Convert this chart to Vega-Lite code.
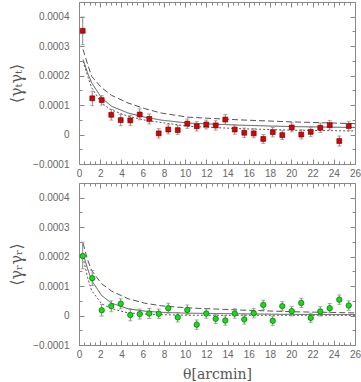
{
  "$schema": "https://vega.github.io/schema/vega-lite/v6.json",
  "padding": {"left": 8, "top": 1, "right": 5, "bottom": 2},
  "spacing": 1,
  "background": "white",
  "config": {
    "view": {"stroke": "#888", "strokeWidth": 1},
    "axis": {
      "labelFont": "Liberation Sans", "labelColor": "#666", "labelFontSize": 10,
      "tickColor": "#888", "domain": false, "grid": false,
      "titleFont": "DejaVu Serif", "titleColor": "#555", "titleFontWeight": "normal", "titleFontSize": 14
    }
  },
  "datasets": {
    "pts": [
      {"p":"t","x":0.35,"y":0.000352,"lo":0.000305,"hi":0.000399},
      {"p":"t","x":1.25,"y":0.000123,"lo":0.000098,"hi":0.000147},
      {"p":"t","x":2.14,"y":0.000117,"lo":0.0001,"hi":0.000132},
      {"p":"t","x":3.04,"y":0.000067,"lo":0.000049,"hi":0.000085},
      {"p":"t","x":3.93,"y":0.000049,"lo":0.00003,"hi":0.000068},
      {"p":"t","x":4.83,"y":0.000048,"lo":0.000031,"hi":0.000065},
      {"p":"t","x":5.72,"y":0.000068,"lo":0.00005,"hi":0.000087},
      {"p":"t","x":6.62,"y":0.000053,"lo":0.000036,"hi":0.00007},
      {"p":"t","x":7.51,"y":0.000004,"lo":-0.000012,"hi":0.00002},
      {"p":"t","x":8.41,"y":0.000017,"lo":0.000002,"hi":0.000033},
      {"p":"t","x":9.3,"y":0.000015,"lo":0.0,"hi":0.00003},
      {"p":"t","x":10.2,"y":0.000037,"lo":0.000021,"hi":0.000053},
      {"p":"t","x":11.09,"y":0.000028,"lo":0.000012,"hi":0.000044},
      {"p":"t","x":11.99,"y":0.000034,"lo":0.000019,"hi":0.000049},
      {"p":"t","x":12.88,"y":0.000031,"lo":0.000015,"hi":0.000047},
      {"p":"t","x":13.78,"y":0.000051,"lo":0.000035,"hi":0.000068},
      {"p":"t","x":14.67,"y":0.000017,"lo":0.000001,"hi":0.000033},
      {"p":"t","x":15.57,"y":0.000006,"lo":-0.00001,"hi":0.000022},
      {"p":"t","x":16.46,"y":0.000004,"lo":-0.000011,"hi":0.00002},
      {"p":"t","x":17.36,"y":-0.000015,"lo":-0.00003,"hi":0.0},
      {"p":"t","x":18.25,"y":0.000008,"lo":-0.000008,"hi":0.000024},
      {"p":"t","x":19.15,"y":-0.000002,"lo":-0.000017,"hi":0.000013},
      {"p":"t","x":20.04,"y":0.000024,"lo":0.000009,"hi":0.00004},
      {"p":"t","x":20.94,"y":0.0,"lo":-0.000015,"hi":0.000016},
      {"p":"t","x":21.83,"y":0.000009,"lo":-0.000007,"hi":0.000025},
      {"p":"t","x":22.73,"y":0.000023,"lo":0.000007,"hi":0.000039},
      {"p":"t","x":23.62,"y":0.000032,"lo":0.000016,"hi":0.000048},
      {"p":"t","x":24.52,"y":-0.000022,"lo":-0.000039,"hi":-0.000005},
      {"p":"t","x":25.41,"y":0.000029,"lo":0.000013,"hi":0.000045},
      {"p":"r","x":0.35,"y":0.000202,"lo":0.000159,"hi":0.000249},
      {"p":"r","x":1.25,"y":0.000127,"lo":0.000102,"hi":0.000153},
      {"p":"r","x":2.14,"y":0.000018,"lo":-0.000002,"hi":0.000038},
      {"p":"r","x":3.04,"y":0.000032,"lo":0.000013,"hi":0.00005},
      {"p":"r","x":3.93,"y":0.00004,"lo":0.000023,"hi":0.000057},
      {"p":"r","x":4.83,"y":0.000002,"lo":-0.000018,"hi":0.000022},
      {"p":"r","x":5.72,"y":0.000005,"lo":-0.000012,"hi":0.000022},
      {"p":"r","x":6.62,"y":0.000007,"lo":-0.00001,"hi":0.000024},
      {"p":"r","x":7.51,"y":0.000006,"lo":-0.00001,"hi":0.000022},
      {"p":"r","x":8.41,"y":0.000025,"lo":0.000008,"hi":0.000042},
      {"p":"r","x":9.3,"y":-0.000006,"lo":-0.000022,"hi":0.00001},
      {"p":"r","x":10.2,"y":0.000019,"lo":0.000003,"hi":0.000036},
      {"p":"r","x":11.09,"y":-0.000031,"lo":-0.000047,"hi":-0.000015},
      {"p":"r","x":11.99,"y":0.000007,"lo":-0.000009,"hi":0.000023},
      {"p":"r","x":12.88,"y":-0.000011,"lo":-0.000027,"hi":0.000005},
      {"p":"r","x":13.78,"y":-0.000017,"lo":-0.000033,"hi":-0.000001},
      {"p":"r","x":14.67,"y":0.000007,"lo":-0.000009,"hi":0.000023},
      {"p":"r","x":15.57,"y":-0.000013,"lo":-0.000029,"hi":0.000003},
      {"p":"r","x":16.46,"y":0.000008,"lo":-0.000008,"hi":0.000024},
      {"p":"r","x":17.36,"y":0.000036,"lo":0.00002,"hi":0.000052},
      {"p":"r","x":18.25,"y":-0.000018,"lo":-0.000034,"hi":-0.000002},
      {"p":"r","x":19.15,"y":0.000032,"lo":0.000016,"hi":0.000048},
      {"p":"r","x":20.04,"y":0.000015,"lo":-0.000001,"hi":0.000031},
      {"p":"r","x":20.94,"y":0.000043,"lo":0.000027,"hi":0.000059},
      {"p":"r","x":21.83,"y":-0.000008,"lo":-0.000024,"hi":0.000008},
      {"p":"r","x":22.73,"y":0.000014,"lo":-0.000002,"hi":0.00003},
      {"p":"r","x":23.62,"y":0.000025,"lo":0.000009,"hi":0.000041},
      {"p":"r","x":24.52,"y":0.000054,"lo":0.000038,"hi":0.00007},
      {"p":"r","x":25.41,"y":0.000034,"lo":0.000018,"hi":0.00005}
    ],
    "curves": [
      {"p":"t","c":"upper","x":0.38,"y":0.000289},{"p":"t","c":"upper","x":0.8,"y":0.00024},{"p":"t","c":"upper","x":1.19,"y":0.000198},{"p":"t","c":"upper","x":2.13,"y":0.000159},{"p":"t","c":"upper","x":3.07,"y":0.000133},{"p":"t","c":"upper","x":4.63,"y":0.000107},{"p":"t","c":"upper","x":6.2,"y":0.000088},{"p":"t","c":"upper","x":7.75,"y":0.000073},{"p":"t","c":"upper","x":10.25,"y":0.000059},{"p":"t","c":"upper","x":15,"y":0.00005},{"p":"t","c":"upper","x":20,"y":0.000043},{"p":"t","c":"upper","x":26,"y":0.000037},
      {"p":"t","c":"mid","x":0.38,"y":0.000255},{"p":"t","c":"mid","x":0.8,"y":0.00021},{"p":"t","c":"mid","x":1.19,"y":0.000176},{"p":"t","c":"mid","x":2.13,"y":0.000124},{"p":"t","c":"mid","x":3.07,"y":0.000096},{"p":"t","c":"mid","x":4.63,"y":0.000073},{"p":"t","c":"mid","x":6.2,"y":0.000059},{"p":"t","c":"mid","x":7.75,"y":0.000049},{"p":"t","c":"mid","x":10.25,"y":0.000039},{"p":"t","c":"mid","x":15,"y":0.000032},{"p":"t","c":"mid","x":20,"y":0.000027},{"p":"t","c":"mid","x":26,"y":0.000024},
      {"p":"t","c":"lower","x":0.38,"y":0.000249},{"p":"t","c":"lower","x":0.8,"y":0.0002},{"p":"t","c":"lower","x":1.19,"y":0.000159},{"p":"t","c":"lower","x":2.13,"y":0.000107},{"p":"t","c":"lower","x":3.07,"y":0.000083},{"p":"t","c":"lower","x":4.63,"y":0.000062},{"p":"t","c":"lower","x":6.2,"y":0.000049},{"p":"t","c":"lower","x":7.75,"y":0.000041},{"p":"t","c":"lower","x":10.25,"y":0.000028},{"p":"t","c":"lower","x":15,"y":0.00002},{"p":"t","c":"lower","x":20,"y":0.000015},{"p":"t","c":"lower","x":26,"y":0.000012},
      {"p":"r","c":"upper","x":0.38,"y":0.000246},{"p":"r","c":"upper","x":0.8,"y":0.00019},{"p":"r","c":"upper","x":1.19,"y":0.000153},{"p":"r","c":"upper","x":2.13,"y":0.000108},{"p":"r","c":"upper","x":3.07,"y":0.000083},{"p":"r","c":"upper","x":4.63,"y":0.000057},{"p":"r","c":"upper","x":6.2,"y":0.000042},{"p":"r","c":"upper","x":7.75,"y":0.000033},{"p":"r","c":"upper","x":10.25,"y":0.000026},{"p":"r","c":"upper","x":15,"y":0.000019},{"p":"r","c":"upper","x":20,"y":0.000013},{"p":"r","c":"upper","x":26,"y":0.000009},
      {"p":"r","c":"mid","x":0.38,"y":0.00021},{"p":"r","c":"mid","x":0.8,"y":0.00016},{"p":"r","c":"mid","x":1.19,"y":0.000119},{"p":"r","c":"mid","x":2.13,"y":0.000068},{"p":"r","c":"mid","x":3.07,"y":0.000042},{"p":"r","c":"mid","x":4.63,"y":0.000023},{"p":"r","c":"mid","x":6.2,"y":0.000015},{"p":"r","c":"mid","x":7.75,"y":0.000011},{"p":"r","c":"mid","x":10.25,"y":0.000008},{"p":"r","c":"mid","x":15,"y":0.000006},{"p":"r","c":"mid","x":20,"y":0.000004},{"p":"r","c":"mid","x":26,"y":0.000003},
      {"p":"r","c":"lower","x":0.38,"y":0.000198},{"p":"r","c":"lower","x":0.8,"y":0.00013},{"p":"r","c":"lower","x":1.19,"y":0.000085},{"p":"r","c":"lower","x":2.13,"y":0.00004},{"p":"r","c":"lower","x":3.07,"y":0.000023},{"p":"r","c":"lower","x":4.63,"y":0.000009},{"p":"r","c":"lower","x":6.2,"y":0.000005},{"p":"r","c":"lower","x":7.75,"y":0.000003},{"p":"r","c":"lower","x":10.25,"y":0.000001},{"p":"r","c":"lower","x":15,"y":0.000001},{"p":"r","c":"lower","x":20,"y":0.000001},{"p":"r","c":"lower","x":26,"y":0.000001}
    ]
  },
  "vconcat": [
    {
      "width": 276, "height": 162,
      "layer": [
        {
          "data": {"name": "curves"},
          "transform": [{"filter": "datum.p == 't'"}],
          "mark": {"type": "line", "color": "#555", "strokeWidth": 1},
          "encoding": {
            "x": {"field": "x", "type": "quantitative", "scale": {"domain": [0, 26], "nice": false},
              "axis": {"orient": "bottom", "title": null, "values": [0,0.5,1,1.5,2,2.5,3,3.5,4,4.5,5,5.5,6,6.5,7,7.5,8,8.5,9,9.5,10,10.5,11,11.5,12,12.5,13,13.5,14,14.5,15,15.5,16,16.5,17,17.5,18,18.5,19,19.5,20,20.5,21,21.5,22,22.5,23,23.5,24,24.5,25,25.5,26],
                "labelExpr": "datum.value % 2 == 0 ? format(datum.value, 'd') : ''",
                "tickSize": {"condition": {"test": "datum.value % 2 == 0", "value": -5}, "value": -3},
                "labelPadding": 9, "labelFlush": false, "labelOverlap": false}},
            "y": {"field": "y", "type": "quantitative", "scale": {"domain": [-0.0001, 0.00045], "nice": false, "zero": false},
              "axis": {"orient": "left", "title": "⟨γₜγₜ⟩", "titlePadding": 8, "titleFontSize": 16,
                "values": [-0.0001,-0.00005,0,0.00005,0.0001,0.00015,0.0002,0.00025,0.0003,0.00035,0.0004],
                "labelExpr": "abs(round(datum.value*100000)) % 10 == 0 ? (datum.value == 0 ? '0' : format(datum.value, '.4f')) : ''",
                "tickSize": {"condition": {"test": "abs(round(datum.value*100000)) % 10 == 0", "value": -5}, "value": -3},
                "labelPadding": 15, "labelFlush": false, "labelOverlap": false}},
            "detail": {"field": "c"},
            "strokeDash": {"field": "c", "type": "nominal", "scale": {"domain": ["upper", "mid", "lower"], "range": [[6, 3], [1, 0], [2, 2]]}, "legend": null}
          }
        },
        {
          "mark": {"type": "rule", "color": "#999", "strokeDash": [2, 2], "strokeWidth": 1},
          "encoding": {"y": {"datum": 0, "type": "quantitative", "axis": null}}
        },
        {
          "data": {"name": "pts"},
          "transform": [{"filter": "datum.p == 't'"}],
          "mark": {"type": "errorbar", "color": "#888", "ticks": {"size": 4}, "thickness": 1},
          "encoding": {
            "x": {"field": "x", "type": "quantitative",
              "axis": {"orient": "top", "title": null, "labels": false, "values": [0,0.5,1,1.5,2,2.5,3,3.5,4,4.5,5,5.5,6,6.5,7,7.5,8,8.5,9,9.5,10,10.5,11,11.5,12,12.5,13,13.5,14,14.5,15,15.5,16,16.5,17,17.5,18,18.5,19,19.5,20,20.5,21,21.5,22,22.5,23,23.5,24,24.5,25,25.5,26],
                "tickSize": {"condition": {"test": "datum.value % 2 == 0", "value": -5}, "value": -3}}},
            "y": {"field": "lo", "type": "quantitative",
              "axis": {"orient": "right", "title": null, "labels": false,
                "values": [-0.0001,-0.00005,0,0.00005,0.0001,0.00015,0.0002,0.00025,0.0003,0.00035,0.0004],
                "tickSize": {"condition": {"test": "abs(round(datum.value*100000)) % 10 == 0", "value": -5}, "value": -3}}},
            "y2": {"field": "hi"}
          }
        },
        {
          "data": {"name": "pts"},
          "transform": [{"filter": "datum.p == 't'"}],
          "mark": {"type": "point", "shape": "square", "filled": true, "size": 24, "color": "#e00000", "stroke": "#500", "strokeWidth": 0.6, "opacity": 1},
          "encoding": {
            "x": {"field": "x", "type": "quantitative", "axis": null},
            "y": {"field": "y", "type": "quantitative", "axis": null}
          }
        }
      ],
      "resolve": {"axis": {"x": "independent", "y": "independent"}}
    },
    {
      "width": 276, "height": 162,
      "layer": [
        {
          "data": {"name": "curves"},
          "transform": [{"filter": "datum.p == 'r'"}],
          "mark": {"type": "line", "color": "#555", "strokeWidth": 1},
          "encoding": {
            "x": {"field": "x", "type": "quantitative", "scale": {"domain": [0, 26], "nice": false},
              "axis": {"orient": "bottom", "title": "θ[arcmin]", "titlePadding": 6, "values": [0,0.5,1,1.5,2,2.5,3,3.5,4,4.5,5,5.5,6,6.5,7,7.5,8,8.5,9,9.5,10,10.5,11,11.5,12,12.5,13,13.5,14,14.5,15,15.5,16,16.5,17,17.5,18,18.5,19,19.5,20,20.5,21,21.5,22,22.5,23,23.5,24,24.5,25,25.5,26],
                "labelExpr": "datum.value % 2 == 0 ? format(datum.value, 'd') : ''",
                "tickSize": {"condition": {"test": "datum.value % 2 == 0", "value": -5}, "value": -3},
                "labelPadding": 9, "labelFlush": false, "labelOverlap": false}},
            "y": {"field": "y", "type": "quantitative", "scale": {"domain": [-0.0001, 0.00045], "nice": false, "zero": false},
              "axis": {"orient": "left", "title": "⟨γᵣγᵣ⟩", "titlePadding": 8, "titleFontSize": 16,
                "values": [-0.0001,-0.00005,0,0.00005,0.0001,0.00015,0.0002,0.00025,0.0003,0.00035,0.0004],
                "labelExpr": "abs(round(datum.value*100000)) % 10 == 0 ? (datum.value == 0 ? '0' : format(datum.value, '.4f')) : ''",
                "tickSize": {"condition": {"test": "abs(round(datum.value*100000)) % 10 == 0", "value": -5}, "value": -3},
                "labelPadding": 15, "labelFlush": false, "labelOverlap": false}},
            "detail": {"field": "c"},
            "strokeDash": {"field": "c", "type": "nominal", "scale": {"domain": ["upper", "mid", "lower"], "range": [[6, 3], [1, 0], [2, 2]]}, "legend": null}
          }
        },
        {
          "mark": {"type": "rule", "color": "#999", "strokeDash": [2, 2], "strokeWidth": 1},
          "encoding": {"y": {"datum": 0, "type": "quantitative", "axis": null}}
        },
        {
          "data": {"name": "pts"},
          "transform": [{"filter": "datum.p == 'r'"}],
          "mark": {"type": "errorbar", "color": "#888", "ticks": {"size": 4}, "thickness": 1},
          "encoding": {
            "x": {"field": "x", "type": "quantitative",
              "axis": {"orient": "top", "title": null, "labels": false, "values": [0,0.5,1,1.5,2,2.5,3,3.5,4,4.5,5,5.5,6,6.5,7,7.5,8,8.5,9,9.5,10,10.5,11,11.5,12,12.5,13,13.5,14,14.5,15,15.5,16,16.5,17,17.5,18,18.5,19,19.5,20,20.5,21,21.5,22,22.5,23,23.5,24,24.5,25,25.5,26],
                "tickSize": {"condition": {"test": "datum.value % 2 == 0", "value": -5}, "value": -3}}},
            "y": {"field": "lo", "type": "quantitative",
              "axis": {"orient": "right", "title": null, "labels": false,
                "values": [-0.0001,-0.00005,0,0.00005,0.0001,0.00015,0.0002,0.00025,0.0003,0.00035,0.0004],
                "tickSize": {"condition": {"test": "abs(round(datum.value*100000)) % 10 == 0", "value": -5}, "value": -3}}},
            "y2": {"field": "hi"}
          }
        },
        {
          "data": {"name": "pts"},
          "transform": [{"filter": "datum.p == 'r'"}],
          "mark": {"type": "point", "shape": "circle", "filled": true, "size": 30, "color": "#10e010", "stroke": "#050", "strokeWidth": 0.6, "opacity": 1},
          "encoding": {
            "x": {"field": "x", "type": "quantitative", "axis": null},
            "y": {"field": "y", "type": "quantitative", "axis": null}
          }
        }
      ],
      "resolve": {"axis": {"x": "independent", "y": "independent"}}
    }
  ]
}
